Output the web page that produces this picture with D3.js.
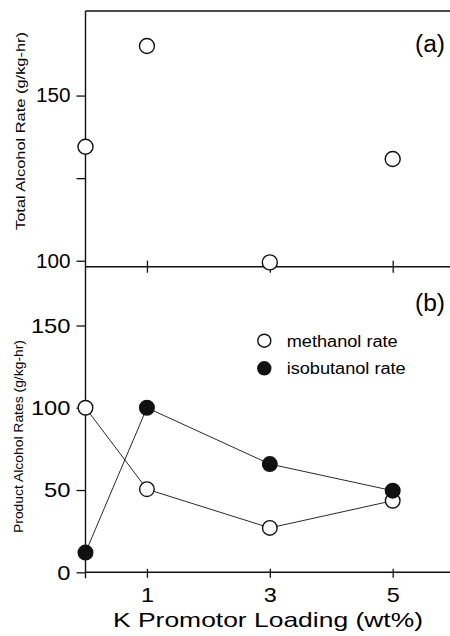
<!DOCTYPE html>
<html>
<head>
<meta charset="utf-8">
<script src="https://cdn.jsdelivr.net/npm/d3@7"></script>
<style>
  html, body { margin: 0; padding: 0; background: #fff; }
  svg { display: block; }
  text { font-family: "Liberation Sans", Arial, Helvetica, sans-serif; fill: #000; }
</style>
</head>
<body>
<svg id="chart" width="450" height="636"></svg>
<script>
// K loading (wt%) for each catalyst
const kLoading = [0, 1, 3, 5];
// (a) total alcohol rate, g/kg-hr
const totalRate = [134.5, 165, 99.5, 130.8];
// (b) product alcohol rates, g/kg-hr
const methanolRate = [100, 50.5, 27, 43.5];
const isobutanolRate = [12, 100, 65.8, 49.6];

const xTickValues = [1, 3, 5];
const topTickValues = [100, 125, 150];
const topTickLabels = ["100", "", "150"];
const bottomTickValues = [0, 50, 100, 150];

const svg = d3.select("#chart");
const ink = "#111";

// shared horizontal scale
const x = d3.scaleLinear().domain([0, 5.9]).range([85.5, 448]);

// panel scales
const yTop = d3.scaleLinear().domain([98.2, 175.6]).range([266.7, 11]);
const yBot = d3.scaleLinear().domain([0, 150]).range([572.3, 325.5]);

function styleAxis(g, fontSize, digitWidth) {
  g.select(".domain").remove();
  g.selectAll(".tick line").attr("stroke", ink).attr("stroke-width", 1.3);
  g.selectAll(".tick text")
    .attr("font-size", fontSize)
    .attr("font-family", "Liberation Sans, Arial, sans-serif")
    .attr("fill", ink)
    .each(function () {
      const t = d3.select(this);
      const s = t.text();
      if (s.length) t.attr("textLength", s.length * digitWidth).attr("lengthAdjust", "spacingAndGlyphs");
    });
}

// ---------- frame lines ----------
// left spine (runs through both panels)
svg.append("line")
  .attr("x1", x(0)).attr("x2", x(0))
  .attr("y1", yTop.range()[1]).attr("y2", yBot(0) + 6)
  .attr("stroke", ink).attr("stroke-width", 1.4);
// top border of panel (a)
svg.append("line")
  .attr("x1", x(0)).attr("x2", 450)
  .attr("y1", yTop.range()[1]).attr("y2", yTop.range()[1])
  .attr("stroke", ink).attr("stroke-width", 1.4);
// baseline of panel (a)
svg.append("line")
  .attr("x1", x(0)).attr("x2", 450)
  .attr("y1", yTop.range()[0]).attr("y2", yTop.range()[0])
  .attr("stroke", ink).attr("stroke-width", 1.4);
// baseline of panel (b)
svg.append("line")
  .attr("x1", x(0)).attr("x2", 450)
  .attr("y1", yBot(0)).attr("y2", yBot(0))
  .attr("stroke", ink).attr("stroke-width", 1.4);

// ---------- axes ----------
const gTopY = svg.append("g").attr("transform", `translate(${x(0)},0)`)
  .call(d3.axisLeft(yTop).tickValues(topTickValues)
    .tickFormat((d, i) => topTickLabels[i]).tickSize(9).tickPadding(6));
styleAxis(gTopY, 20, 11.5);

const gTopX = svg.append("g").attr("transform", `translate(0,${yTop.range()[0]})`)
  .call(d3.axisBottom(x).tickValues(xTickValues).tickFormat("").tickSize(6));
styleAxis(gTopX, 20, 11.5);
gTopX.selectAll(".tick line").attr("y1", -6);

const gBotY = svg.append("g").attr("transform", `translate(${x(0)},0)`)
  .call(d3.axisLeft(yBot).tickValues(bottomTickValues).tickSize(9).tickPadding(6));
styleAxis(gBotY, 21, 13.2);

const gBotX = svg.append("g").attr("transform", `translate(0,${yBot(0)})`)
  .call(d3.axisBottom(x).tickValues(xTickValues).tickFormat(d3.format("d"))
    .tickSize(5.5).tickPadding(9));
styleAxis(gBotX, 21, 13);
gBotX.selectAll(".tick line").attr("y1", -3.5);

// ---------- axis titles ----------
svg.append("text")
  .attr("transform", `translate(24.5,131) rotate(-90)`)
  .attr("text-anchor", "middle")
  .attr("font-size", 13.5)
  .attr("textLength", 198).attr("lengthAdjust", "spacingAndGlyphs")
  .text("Total Alcohol Rate (g/kg-hr)");

svg.append("text")
  .attr("transform", `translate(23,436.5) rotate(-90)`)
  .attr("text-anchor", "middle")
  .attr("font-size", 12.8)
  .attr("textLength", 193).attr("lengthAdjust", "spacingAndGlyphs")
  .text("Product Alcohol Rates (g/kg-hr)");

svg.append("text")
  .attr("x", 113).attr("y", 626.5)
  .attr("font-size", 21)
  .attr("textLength", 310).attr("lengthAdjust", "spacingAndGlyphs")
  .text("K Promotor Loading (wt%)");

// panel tags
svg.append("text").attr("x", 415).attr("y", 52).attr("font-size", 23)
  .attr("textLength", 30).attr("lengthAdjust", "spacingAndGlyphs").text("(a)");
svg.append("text").attr("x", 415).attr("y", 311).attr("font-size", 23)
  .attr("textLength", 30).attr("lengthAdjust", "spacingAndGlyphs").text("(b)");

// ---------- panel (a): total rate ----------
svg.append("g").selectAll("circle")
  .data(kLoading.map((k, i) => ({ k, v: totalRate[i] })))
  .join("circle")
  .attr("cx", d => x(d.k)).attr("cy", d => yTop(d.v))
  .attr("r", 7.5)
  .attr("fill", "#fff").attr("stroke", ink).attr("stroke-width", 1.4);

// ---------- panel (b): product rates ----------
const line = d3.line().x(d => x(d.k)).y(d => yBot(d.v));
const series = [
  { name: "methanol rate", values: methanolRate, fill: "#fff" },
  { name: "isobutanol rate", values: isobutanolRate, fill: ink }
];

series.forEach(s => {
  const pts = kLoading.map((k, i) => ({ k, v: s.values[i] }));
  svg.append("path").datum(pts)
    .attr("d", line).attr("fill", "none")
    .attr("stroke", ink).attr("stroke-width", 0.9);
});
series.forEach(s => {
  const pts = kLoading.map((k, i) => ({ k, v: s.values[i] }));
  svg.append("g").selectAll("circle").data(pts).join("circle")
    .attr("cx", d => x(d.k)).attr("cy", d => yBot(d.v))
    .attr("r", 7.3)
    .attr("fill", s.fill).attr("stroke", ink).attr("stroke-width", 1.4);
});

// legend
const legend = svg.append("g");
const legendWidths = [111, 119];
series.forEach((s, i) => {
  const gy = 340.7 + i * 27.6;
  legend.append("circle").attr("cx", 264.3).attr("cy", gy).attr("r", 6.5)
    .attr("fill", s.fill).attr("stroke", ink).attr("stroke-width", 1.4);
  legend.append("text").attr("x", 286.7).attr("y", gy + 5.8)
    .attr("font-size", 16)
    .attr("textLength", legendWidths[i]).attr("lengthAdjust", "spacingAndGlyphs")
    .text(s.name);
});
</script>
</body>
</html>
